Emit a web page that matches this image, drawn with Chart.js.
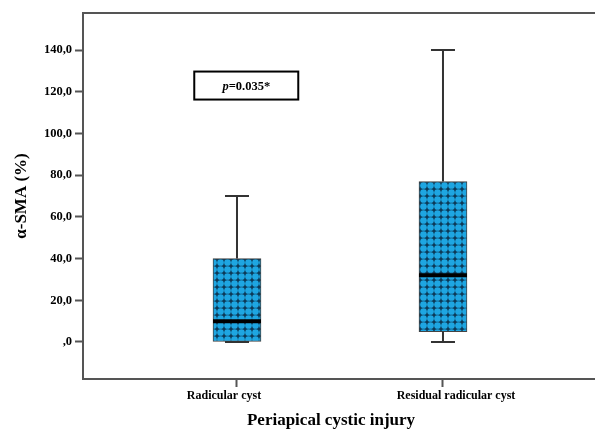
<!DOCTYPE html>
<html>
<head>
<meta charset="utf-8">
<script src="https://cdn.jsdelivr.net/npm/chart.js@4/dist/chart.umd.min.js"></script>
<style>
  html, body { margin: 0; padding: 0; background: #fff; }
  #wrap { width: 595px; height: 429px; position: relative; }
</style>
</head>
<body>
<div id="wrap"><canvas id="chart"></canvas></div>
<script>
// box plot values
const categories = ['Radicular cyst', 'Residual radicular cyst'];
const catPositions = [1, 2];
const whiskerMin = [0, 0];
const q1 = [0, 5];
const median = [10, 32];
const q3 = [40, 77];
const whiskerMax = [70, 140];

const yTickValues = [0, 20, 40, 60, 80, 100, 120, 140];
const yTickLabels = [',0', '20,0', '40,0', '60,0', '80,0', '100,0', '120,0', '140,0'];

const yTitle = 'α-SMA (%)';
const xTitle = 'Periapical cystic injury';
const pValueText = '=0.035*';
const pValuePos = { x: 1.045, y: 123 };

const FONT = "'Liberation Serif', 'DejaVu Serif', serif";
const labelShift = [-13, 13]; // the category labels sit a little off their ticks

// blue circles on a dark ground, like the SPSS fill pattern
function makePattern() {
  const c = document.createElement('canvas');
  c.width = 7; c.height = 7;
  const g = c.getContext('2d');
  g.fillStyle = '#0d3a58';
  g.fillRect(0, 0, 7, 7);
  g.fillStyle = '#1ea6e2';
  g.beginPath();
  g.arc(3.5, 3.5, 3.35, 0, Math.PI * 2);
  g.fill();
  return g.createPattern(c, 'repeat');
}

const boxExtras = {
  id: 'boxExtras',
  afterDatasetsDraw(chart) {
    const { ctx, chartArea, scales: { x, y } } = chart;
    ctx.save();
    // top frame line
    ctx.strokeStyle = '#555';
    ctx.lineWidth = 2;
    ctx.beginPath();
    ctx.moveTo(chartArea.left - 1, chartArea.top);
    ctx.lineTo(chartArea.right, chartArea.top);
    ctx.stroke();

    catPositions.forEach((pos, i) => {
      const px = x.getPixelForValue(pos);
      ctx.strokeStyle = '#333';
      ctx.lineWidth = 2;
      ctx.beginPath();
      ctx.moveTo(px, y.getPixelForValue(q3[i]));
      ctx.lineTo(px, y.getPixelForValue(whiskerMax[i]));
      ctx.moveTo(px - 12, y.getPixelForValue(whiskerMax[i]));
      ctx.lineTo(px + 12, y.getPixelForValue(whiskerMax[i]));
      ctx.moveTo(px, y.getPixelForValue(q1[i]));
      ctx.lineTo(px, y.getPixelForValue(whiskerMin[i]));
      ctx.moveTo(px - 12, y.getPixelForValue(whiskerMin[i]));
      ctx.lineTo(px + 12, y.getPixelForValue(whiskerMin[i]));
      ctx.stroke();
      // median
      ctx.strokeStyle = '#000';
      ctx.lineWidth = 4;
      ctx.beginPath();
      ctx.moveTo(px - 24, y.getPixelForValue(median[i]));
      ctx.lineTo(px + 24, y.getPixelForValue(median[i]));
      ctx.stroke();

      // category label
      ctx.fillStyle = '#000';
      ctx.font = `bold 12px ${FONT}`;
      ctx.textAlign = 'center';
      ctx.textBaseline = 'middle';
      ctx.fillText(categories[i], px + labelShift[i], chartArea.bottom + 17);
    });

    // p-value box
    const bx = x.getPixelForValue(pValuePos.x);
    const by = y.getPixelForValue(pValuePos.y);
    ctx.fillStyle = '#fff';
    ctx.fillRect(bx - 52, by - 14, 104, 28);
    ctx.strokeStyle = '#000';
    ctx.lineWidth = 2;
    ctx.strokeRect(bx - 52, by - 14, 104, 28);
    ctx.fillStyle = '#000';
    ctx.textBaseline = 'middle';
    ctx.font = `italic bold 12.5px ${FONT}`;
    const pW = ctx.measureText('p').width;
    ctx.font = `bold 12.5px ${FONT}`;
    const restW = ctx.measureText(pValueText).width;
    const tx = bx - (pW + restW) / 2;
    ctx.font = `italic bold 12.5px ${FONT}`;
    ctx.textAlign = 'left';
    ctx.fillText('p', tx, by + 1);
    ctx.font = `bold 12.5px ${FONT}`;
    ctx.fillText(pValueText, tx + pW, by + 1);

    // axis titles
    ctx.font = `bold 17px ${FONT}`;
    ctx.textAlign = 'center';
    ctx.fillText(xTitle, 331, 421);
    ctx.translate(22, (chartArea.top + chartArea.bottom) / 2);
    ctx.rotate(-Math.PI / 2);
    ctx.fillText(yTitle, 0, 0);
    ctx.restore();
  }
};

const ctx = document.getElementById('chart').getContext('2d');
new Chart(ctx, {
  type: 'bar',
  data: {
    datasets: [{
      data: categories.map((c, i) => ({ x: catPositions[i], y: [q1[i], q3[i]] })),
      backgroundColor: makePattern(),
      borderColor: '#444',
      borderWidth: 1,
      borderSkipped: false,
      barThickness: 48
    }]
  },
  options: {
    responsive: true,
    maintainAspectRatio: false,
    animation: false,
    layout: { padding: { top: 13, left: 0, right: 0, bottom: 0 } },
    plugins: { legend: { display: false }, tooltip: { enabled: false } },
    scales: {
      x: {
        type: 'linear',
        min: 0.2524,
        max: 2.738,
        offset: false,
        afterFit: s => { s.height = 50; },
        afterBuildTicks: s => { s.ticks = catPositions.map(v => ({ value: v })); },
        ticks: { display: true, color: 'rgba(0,0,0,0)', callback: () => '' },
        grid: { offset: false, drawOnChartArea: false, drawTicks: true, tickLength: 8, color: '#555', tickWidth: 2 },
        border: { display: true, color: '#555', width: 2 }
      },
      y: {
        min: -17.75,
        max: 157.8,
        afterFit: s => { s.width = 83; },
        afterBuildTicks: s => { s.ticks = yTickValues.map(v => ({ value: v })); },
        ticks: {
          padding: 3,
          color: '#000',
          font: { family: FONT, size: 12.5, weight: 'bold' },
          callback: v => yTickLabels[yTickValues.indexOf(v)]
        },
        grid: { drawOnChartArea: false, drawTicks: true, tickLength: 8, color: '#555', tickWidth: 2 },
        border: { display: true, color: '#555', width: 2 }
      }
    }
  },
  plugins: [boxExtras]
});
</script>
</body>
</html>
